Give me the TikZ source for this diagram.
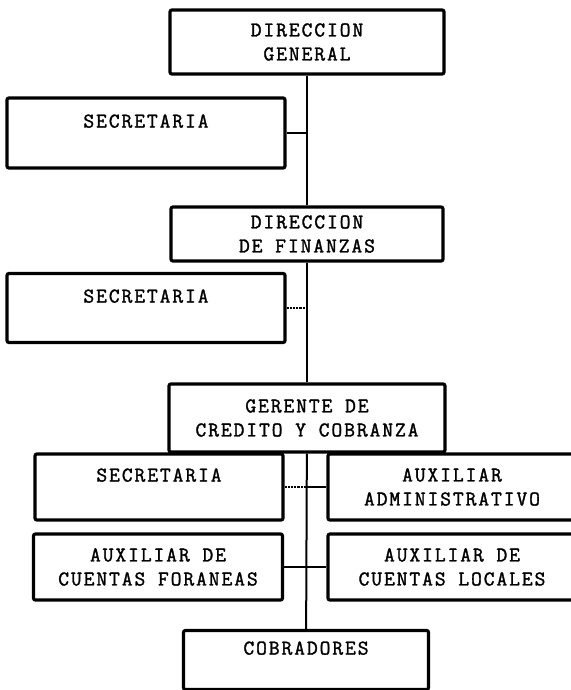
\documentclass[tikz,border=0pt]{standalone}
\usepackage{fontspec}
\newfontfamily\maquina{Latin Modern Mono}[LetterSpace=9,FakeBold=1.5]
\usetikzlibrary{positioning}

\tikzset{
   caja/.style={draw, line width=3.2pt, rounded corners=2pt, align=center,
                font=\maquina\fontsize{21}{24}\selectfont},
   linea/.style={line width=2pt},
   punteada/.style={line width=2.2pt, densely dotted}
}

\begin{document}
\begin{tikzpicture}[x=1pt, y=-1pt]
   \useasboundingbox (0,0) rectangle (570,690);

   % Nodes
      \node[caja,minimum width=274pt,minimum height=64pt]  (gen)  at (307,42)   {DIRECCION\\GENERAL};
      \node[caja,minimum width=278pt,minimum height=70pt]  (sec1) at (146,133)  {SECRETARIA\\\mbox{}};
      \node[caja,minimum width=272pt,minimum height=54pt]  (fin)  at (307,234)  {DIRECCION\\DE FINANZAS};
      \node[caja,minimum width=278pt,minimum height=69pt]  (sec2) at (146,308)  {SECRETARIA\\\mbox{}};
      \node[caja,minimum width=276pt,minimum height=68pt]  (ger)  at (307,418)  {GERENTE DE\\CREDITO Y COBRANZA};
      \node[caja,minimum width=248pt,minimum height=66pt]  (sec3) at (159,487)  {SECRETARIA\\\mbox{}};
      \node[caja,minimum width=248pt,minimum height=66pt]  (adm)  at (452,487)  {AUXILIAR\\ADMINISTRATIVO};
      \node[caja,minimum width=249pt,minimum height=66pt]  (for)  at (158,567)  {AUXILIAR DE\\CUENTAS FORANEAS};
      \node[caja,minimum width=248pt,minimum height=66pt]  (loc)  at (452,567)  {AUXILIAR DE\\CUENTAS LOCALES};
      \node[caja,minimum width=245pt,minimum height=59pt]  (cob)  at (306,660)  {COBRADORES\\\mbox{}};

   % Paths
      \path (gen)  edge[linea]    (fin);
      \path (fin)  edge[linea]    (ger);
      \path (ger)  edge[linea]    (cob);
      \path (sec1.east) edge[line width=2.6pt] (sec1.east -| gen.south);
      \path (sec2.east) edge[punteada] (sec2.east -| fin.south);
      \path (sec3.east) edge[punteada] (sec3.east -| ger.south);
      \path (adm.west)  edge[line width=2.6pt] (adm.west -| ger.south);
      \path (for.east)  edge[line width=2.6pt] (loc.west);
\end{tikzpicture}
\end{document}
